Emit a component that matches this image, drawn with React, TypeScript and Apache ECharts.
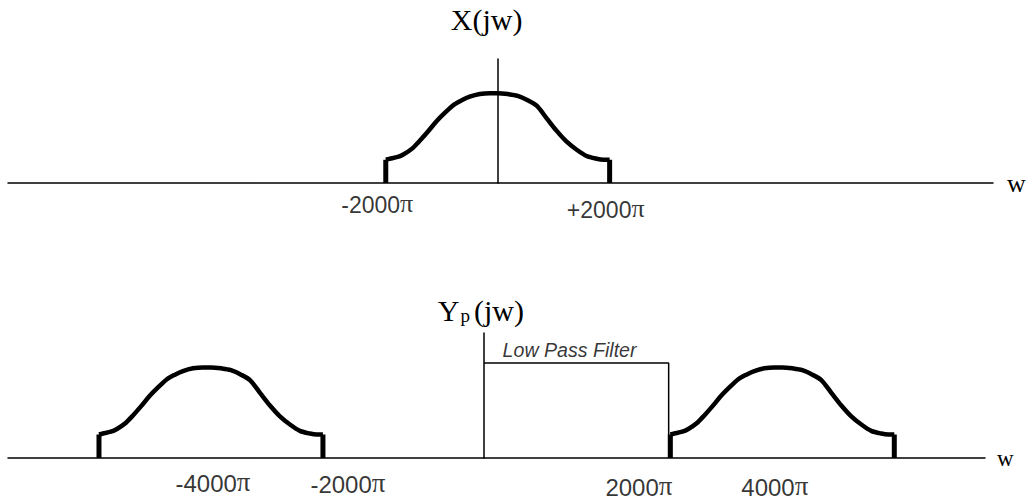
import React, { useEffect, useRef } from "react";
import * as echarts from "echarts";

// Hump shape: offsets from the hump centre (in units of pi rad/s) and amplitudes
const HUMP_OFFSETS = [
  -2000, -2000, -1929, -1786, -1679, -1536, -1393, -1250, -1089, -946, -786, -643, -500, -321, -143, 0,
  179, 357, 536, 696, 875, 1054, 1232, 1411, 1589, 1768, 1893, 2000, 2000,
];
const HUMP_HEIGHTS = [
  0, 0.26, 0.27, 0.29, 0.32, 0.38, 0.47, 0.57, 0.69, 0.78, 0.87, 0.92, 0.96, 0.99, 1.0, 1.0,
  0.99, 0.97, 0.92, 0.86, 0.72, 0.58, 0.46, 0.37, 0.3, 0.27, 0.26, 0.26, 0,
];

const TOP_HUMP_CENTERS = [0];
const BOTTOM_HUMP_CENTERS = [-4875, 5330];

const FILTER_CUTOFF = 3300;
const FILTER_GAIN = 1.05;

const TOP_TICK_TEXT = ["-2000", "+2000"];
const TOP_TICK_W = [-2153, 1930];
const TOP_TICK_Y = [-0.223, -0.284];

const BOTTOM_TICK_TEXT = ["-4000", "-2000", "2000", "4000"];
const BOTTOM_TICK_W = [-4839, -2429, 2768, 5196];
const BOTTOM_TICK_Y = [-0.265, -0.281, -0.305, -0.305];

const FILTER_LABEL = "Low Pass Filter";
const FILTER_LABEL_W = 334;
const FILTER_LABEL_Y = 1.192;

const TOP_TITLE = "X(jw)";
const BOTTOM_TITLE = "{m|Y}{s|p}{m|(jw)}";
const AXIS_NAME = "w";

const SERIF = "'Liberation Serif', 'Times New Roman', serif";
const SANS = "'Liberation Sans', Arial, sans-serif";

const N = HUMP_OFFSETS.length;

function humpSeries(center: number, axisIndex: number) {
  const base = {
    type: "line",
    xAxisIndex: axisIndex,
    yAxisIndex: axisIndex,
    symbol: "none",
    showSymbol: false,
    silent: true,
  };
  const pts = HUMP_OFFSETS.map((o, i) => [center + o, HUMP_HEIGHTS[i]]);
  return [
    {
      ...base,
      data: pts.slice(1, N - 1),
      smooth: 0.3,
      lineStyle: { color: "#000", width: 4.5, join: "round", cap: "butt" },
    },
    {
      ...base,
      data: pts.slice(0, 2),
      lineStyle: { color: "#000", width: 5, cap: "butt" },
    },
    {
      ...base,
      data: pts.slice(N - 2),
      lineStyle: { color: "#000", width: 5, cap: "butt" },
    },
  ];
}

function tickSeries(texts: string[], ws: number[], ys: number[], axisIndex: number, size: number) {
  return {
    type: "scatter",
    xAxisIndex: axisIndex,
    yAxisIndex: axisIndex,
    clip: false,
    silent: true,
    symbolSize: 1,
    itemStyle: { color: "transparent" },
    data: texts.map((t, i) => ({ name: t, value: [ws[i], ys[i]] })),
    label: {
      show: true,
      position: "inside",
      formatter: (p: any) => `{d|${p.name}}{p|π}`,
      rich: {
        d: { fontFamily: SANS, fontSize: size, color: "#000", verticalAlign: "bottom" },
        p: { fontFamily: SERIF, fontSize: size + 3, color: "#000", verticalAlign: "bottom" },
      },
    },
  };
}

const axisLine = { show: true, onZero: true, lineStyle: { color: "#000", width: 1.5 } };

export default function App() {
  const ref = useRef<HTMLDivElement>(null);
  useEffect(() => {
    if (!ref.current) return;
    const chart = echarts.init(ref.current, undefined, { renderer: "svg" });
    chart.setOption({
      animation: false,
      backgroundColor: "#fff",
      grid: [
        { left: 8, right: 37, top: 59, bottom: 317, containLabel: false, outerBoundsMode: "none" },
        { left: 8, right: 45, top: 333, bottom: 42, containLabel: false, outerBoundsMode: "none" },
      ],
      xAxis: [
        {
          gridIndex: 0,
          type: "value",
          min: -8750,
          max: 8850,
          axisLine,
          axisTick: { show: false },
          axisLabel: { show: false },
          splitLine: { show: false },
          name: AXIS_NAME,
          nameLocation: "end",
          nameGap: 14,
          nameTextStyle: { fontFamily: SERIF, fontSize: 26, color: "#000", padding: [4, 0, 0, 0] },
        },
        {
          gridIndex: 1,
          type: "value",
          min: -8500,
          max: 8950,
          axisLine,
          axisTick: { show: false },
          axisLabel: { show: false },
          splitLine: { show: false },
          name: AXIS_NAME,
          nameLocation: "end",
          nameGap: 12,
          nameTextStyle: { fontFamily: SERIF, fontSize: 23, color: "#000", padding: [5, 0, 0, 0] },
        },
      ],
      yAxis: [
        {
          gridIndex: 0,
          type: "value",
          min: 0,
          max: 1.38,
          axisLine,
          axisTick: { show: false },
          axisLabel: { show: false },
          splitLine: { show: false },
          name: TOP_TITLE,
          nameLocation: "end",
          nameGap: 25,
          nameTextStyle: { fontFamily: SERIF, fontSize: 30, color: "#000", padding: [0, 22, 0, 0] },
        },
        {
          gridIndex: 1,
          type: "value",
          min: 0,
          max: 1.38,
          axisLine,
          axisTick: { show: false },
          axisLabel: { show: false },
          splitLine: { show: false },
          name: BOTTOM_TITLE,
          nameLocation: "end",
          nameGap: 8,
          nameTextStyle: {
            color: "#000",
            padding: [0, 6, 0, 0],
            rich: {
              m: { fontFamily: SERIF, fontSize: 30, color: "#000", verticalAlign: "bottom" },
              s: {
                fontFamily: SERIF,
                fontSize: 19,
                color: "#000",
                verticalAlign: "bottom",
                padding: [0, 4, 0, 1],
              },
            },
          },
        },
      ],
      series: [
        ...TOP_HUMP_CENTERS.flatMap((c) => humpSeries(c, 0)),
        ...BOTTOM_HUMP_CENTERS.flatMap((c) => humpSeries(c, 1)),
        {
          type: "line",
          xAxisIndex: 1,
          yAxisIndex: 1,
          data: [
            [0, FILTER_GAIN],
            [FILTER_CUTOFF, FILTER_GAIN],
            [FILTER_CUTOFF, 0],
          ],
          symbol: "none",
          silent: true,
          lineStyle: { color: "#000", width: 1.5 },
        },
        tickSeries(TOP_TICK_TEXT, TOP_TICK_W, TOP_TICK_Y, 0, 23),
        tickSeries(BOTTOM_TICK_TEXT, BOTTOM_TICK_W, BOTTOM_TICK_Y, 1, 24),
        {
          type: "scatter",
          xAxisIndex: 1,
          yAxisIndex: 1,
          clip: false,
          silent: true,
          symbolSize: 1,
          itemStyle: { color: "transparent" },
          data: [{ name: FILTER_LABEL, value: [FILTER_LABEL_W, FILTER_LABEL_Y] }],
          label: {
            show: true,
            position: "inside",
            align: "left",
            formatter: "{b}",
            fontFamily: SANS,
            fontStyle: "italic",
            fontSize: 19.6,
            color: "#000",
          },
        },
      ],
    });
    return () => chart.dispose();
  }, []);
  return (
    <div
      ref={ref}
      style={{ position: "absolute", left: 0, top: 0, width: 1030, height: 500, background: "#fff" }}
    />
  );
}
